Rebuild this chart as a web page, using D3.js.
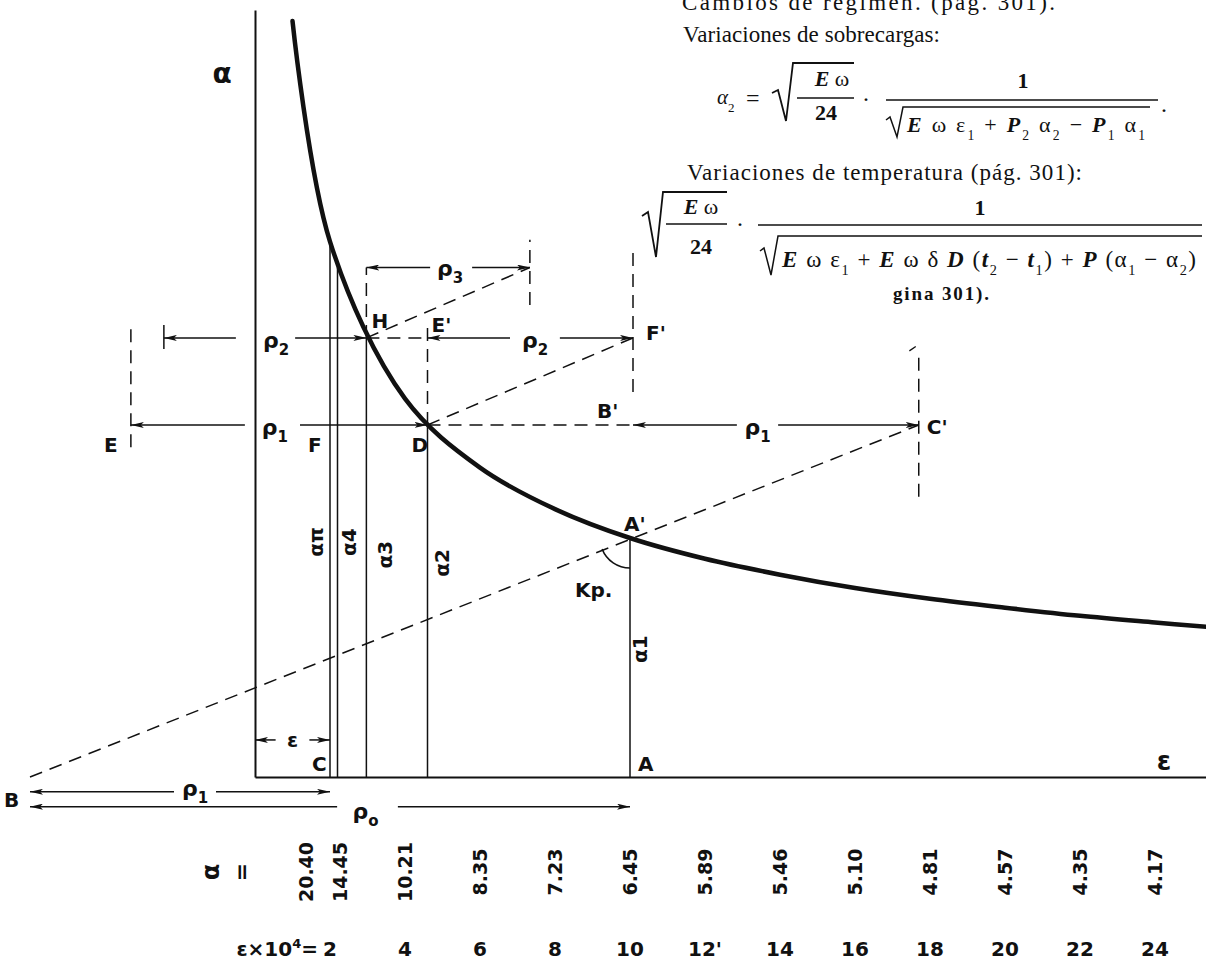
<!DOCTYPE html>
<html>
<head>
<meta charset="utf-8">
<script src="https://cdn.jsdelivr.net/npm/d3@7"></script>
<style>
  html, body { margin: 0; padding: 0; background: #fff; }
  svg { display: block; }
  .hand { font-family: "DejaVu Sans", sans-serif; font-weight: bold; fill: #111; }
  .print { font-family: "Liberation Serif", "DejaVu Serif", serif; fill: #111; }
</style>
</head>
<body>
<svg id="chart" width="1206" height="970"></svg>
<script>
// ----- Table under the plot: alpha for each eps x 10^4
const alphaEps    = [1, 2, 4, 6, 8, 10, 12, 14, 16, 18, 20, 22, 24];
const alphaVals   = [20.40, 14.45, 10.21, 8.35, 7.23, 6.45, 5.89, 5.46, 5.10, 4.81, 4.57, 4.35, 4.17];
const alphaLabels = ["20.40", "14.45", "10.21", "8.35", "7.23", "6.45", "5.89", "5.46", "5.10", "4.81", "4.57", "4.35", "4.17"];
const epsTicks    = [2, 4, 6, 8, 10, 12, 14, 16, 18, 20, 22, 24];
const epsLabels   = ["2", "4", "6", "8", "10", "12'", "14", "16", "18", "20", "22", "24"];

// the curve runs on to the right border
const tailEps   = [25.4];
const tailAlpha = [4.05];

// ordinates under the curve
const ordNames = ["απ", "α4", "α3", "α2", "α1"];
const ordEps   = [2.0, 2.2, 2.97, 4.6, 10];
const ordAlpha = [14.45, 13.75, 11.85, 9.5, 6.45];

// construction points [eps, alpha]
const ptB  = [-6, 0];
const ptC  = [2, 0];
const ptA  = [10, 0];
const ptAp = [10, 6.45];
const ptD  = [4.6, 9.5];
const ptH  = [2.97, 11.85];
const ptEp = [4.6, 11.85];
const ptFp = [10.08, 11.85];
const ptBp = [10.08, 9.5];
const ptCp = [17.7, 9.5];
const ptE  = [-3.31, 9.5];
const ptR2 = [-2.43, 11.85];
const ptR3 = [7.33, 13.75];

// ----- Scales
const x = d3.scaleLinear().domain([0, 10]).range([255, 630]);
const y = d3.scaleLinear().domain([0, 6.45]).range([777, 538]);

const svg = d3.select("#chart");
const ink = "#111";

const defs = svg.append("defs");
defs.append("marker")
    .attr("id", "arr")
    .attr("viewBox", "0 0 13 6")
    .attr("refX", 13).attr("refY", 3)
    .attr("markerWidth", 13).attr("markerHeight", 6)
    .attr("markerUnits", "userSpaceOnUse")
    .attr("orient", "auto-start-reverse")
  .append("path")
    .attr("d", "M0,0 L13,3 L0,6 L3,3 Z")
    .attr("fill", ink);

// ----- Axes (no ticks, just the two lines)
const yTop = 20.7, xEnd = 25.5;
const yAxisScale = d3.scaleLinear().domain([0, yTop]).range([y(0), y(yTop)]);
const xAxisScale = d3.scaleLinear().domain([0, xEnd]).range([x(0), x(xEnd)]);
svg.append("g")
    .attr("transform", `translate(${x(0)},0)`)
    .call(d3.axisLeft(yAxisScale).tickValues([]).tickSizeOuter(0))
    .call(g => g.select(".domain").attr("stroke", ink).attr("stroke-width", 2));
svg.append("g")
    .attr("transform", `translate(0,${y(0)})`)
    .call(d3.axisBottom(xAxisScale).tickValues([]).tickSizeOuter(0))
    .call(g => g.select(".domain").attr("stroke", ink).attr("stroke-width", 2.2));

// ----- Lines helpers
function seg(p, q, dashed, width, startArrow, endArrow) {
  const l = svg.append("line")
      .attr("x1", x(p[0])).attr("y1", y(p[1]))
      .attr("x2", x(q[0])).attr("y2", y(q[1]))
      .attr("stroke", ink)
      .attr("stroke-width", width || 1.5);
  if (dashed) l.attr("stroke-dasharray", "13,8");
  if (startArrow) l.attr("marker-start", "url(#arr)");
  if (endArrow) l.attr("marker-end", "url(#arr)");
  return l;
}

// dimension line with a gap for its label
function dim(a, b, at, gap) {
  seg([a, at], [gap[0], at], false, 1.5, true, false);
  seg([gap[1], at], [b, at], false, 1.5, false, true);
}

function hand(txt, px, py, size, anchor, rotate) {
  const t = svg.append("text")
      .attr("class", "hand")
      .attr("font-size", size || 20)
      .attr("text-anchor", anchor || "start");
  if (rotate) {
    t.attr("transform", `translate(${px},${py}) rotate(${rotate})`);
  } else {
    t.attr("x", px).attr("y", py);
  }
  t.text(txt);
  return t;
}

function rho(sub, px, py) {
  const t = svg.append("text")
      .attr("class", "hand")
      .attr("font-size", 22)
      .attr("text-anchor", "middle")
      .attr("x", px).attr("y", py);
  t.append("tspan").text("ρ");
  t.append("tspan").attr("font-size", 15).attr("dy", 7).text(sub);
}

// ----- Solid ordinates
ordEps.forEach((e, i) => seg([e, 0], [e, ordAlpha[i]], false, 1.5));

// ----- Dashed construction lines
seg(ptB, ptCp, true);
seg(ptD, ptFp, true);
seg(ptH, ptR3, true);
seg(ptH, ptEp, true);
seg(ptD, ptBp, true);
seg(ptH, [ptH[0], ptR3[1]], true);
seg(ptD, [ptD[0], 12.2], true);
seg([ptE[0], 8.9], [ptE[0], 12.28], true);
seg([ptR3[0], 12.74], [ptR3[0], 14.5], true);
seg([ptFp[0], 10.39], [ptFp[0], 14.22], true);
seg([ptCp[0], 7.56], [ptCp[0], 11.44], true);
seg([17.45, 11.5], [17.62, 11.62], false, 1.3);
seg([ptR2[0], 11.55], [ptR2[0], 12.2], false, 1.5);

// ----- Dimensions
dim(ptE[0], ptD[0], ptD[1], [-0.27, 1.2]);
dim(ptBp[0], ptCp[0], ptBp[1], [12.85, 13.95]);
dim(ptR2[0], ptH[0], ptH[1], [-0.51, 1.07]);
dim(ptEp[0], ptFp[0], ptEp[1], [6.8, 8.13]);
dim(ptH[0], ptR3[0], ptR3[1], [4.67, 5.79]);
dim(0, ptC[0], 1.0, [0.55, 1.45]);
dim(ptB[0], ptC[0], -0.4, [-2.16, -1.04]);
dim(ptB[0], ptA[0], -0.8, [2.19, 3.81]);

rho("1", x(0.53), y(9.5) + 10);
rho("1", x(13.4), y(9.5) + 10);
rho("2", x(0.56), y(11.85) + 10);
rho("2", x(7.47), y(11.85) + 10);
rho("3", x(5.2), y(13.75) + 8);
rho("1", x(-1.6), y(-0.4) + 4);
rho("o", x(2.95), y(-0.8) + 12);
hand("ε", x(1.0), y(1.0) + 7, 20, "middle");

// ----- Curve
const curvePts = alphaEps.map((e, i) => [e, alphaVals[i]])
  .concat(tailEps.map((e, i) => [e, tailAlpha[i]]));
svg.append("path")
    .datum(curvePts)
    .attr("fill", "none")
    .attr("stroke", ink)
    .attr("stroke-width", 4.5)
    .attr("stroke-linecap", "round")
    .attr("d", d3.line().x(d => x(d[0])).y(d => y(d[1])).curve(d3.curveCatmullRom.alpha(0.5)));

// angle Kp at A'
const ang = Math.atan2(y(ptB[1]) - y(ptAp[1]), x(ptB[0]) - x(ptAp[0]));
svg.append("path")
    .attr("transform", `translate(${x(ptAp[0])},${y(ptAp[1])})`)
    .attr("fill", "none")
    .attr("stroke", ink)
    .attr("stroke-width", 1.5)
    .attr("d", d3.arc()({ innerRadius: 30, outerRadius: 30, startAngle: Math.PI, endAngle: Math.PI / 2 + ang }));

// ----- Point letters
hand("H", x(ptH[0]) + 5, y(ptH[1]) - 10);
hand("E'", x(ptEp[0]) + 4, y(ptEp[1]) - 6);
hand("F'", x(ptFp[0]) + 13, y(ptFp[1]) + 2);
hand("D", x(ptD[0]) - 16, y(ptD[1]) + 27);
hand("F", x(ordEps[0]) - 22, y(ptD[1]) + 27);
hand("E", x(ptE[0]) - 27, y(ptE[1]) + 27);
hand("B'", x(ptBp[0]) - 36, y(ptBp[1]) - 7);
hand("C'", x(ptCp[0]) + 8, y(ptCp[1]) + 9);
hand("A'", x(ptAp[0]) - 6, y(ptAp[1]) - 7);
hand("Kp.", x(ptAp[0]) - 55, y(ptAp[1]) + 59);
hand("C", x(ptC[0]) - 18, y(0) - 6);
hand("A", x(ptA[0]) + 8, y(0) - 6);
hand("B", 4, y(-0.6) + 8);
hand("ε", 1164, y(0) - 7, 26, "middle");
hand("α", x(0) - 33, 83, 28, "middle");

// ordinate names, written upwards
const ordDx = [-14, 11, 19, 14, 10];
const ordY  = [y(6.34), y(6.34), y(6.0), y(5.78), y(3.45)];
ordNames.forEach((n, i) => hand(n, x(ordEps[i]) + ordDx[i] + 7, ordY[i], 20, "middle", -90));

// ----- Table under the plot
hand("α", x(0) - 44, 872, 24, "middle", -90).attr("dy", "0.35em");
hand("=", x(0) - 14, 872, 22, "middle", -90).attr("dy", "0.35em");
alphaLabels.forEach((t, i) => {
  hand(t, x(alphaEps[i]) + (i === 0 ? 14 : i === 1 ? 10 : 0), 872, 19, "middle", -90).attr("dy", "0.35em");
});
const epsHead = svg.append("text").attr("class", "hand").attr("font-size", 20)
    .attr("text-anchor", "end").attr("x", x(epsTicks[0]) - 12).attr("y", 956);
epsHead.append("tspan").text("ε×10");
epsHead.append("tspan").attr("font-size", 13).attr("dy", -8).text("4");
epsHead.append("tspan").attr("dy", 8).text("=");
epsTicks.forEach((e, i) => hand(epsLabels[i], x(e), 956, 20, "middle"));

// ----- Printed text at the top right
function rich(px, py, size, parts, anchor, weight, len) {
  const t = svg.append("text").attr("class", "print")
      .attr("x", px).attr("y", py)
      .attr("font-size", size)
      .attr("text-anchor", anchor || "start");
  if (weight) t.attr("font-weight", weight);
  if (len) t.attr("textLength", len).attr("lengthAdjust", "spacing");
  parts.forEach(p => {
    const s = t.append("tspan").text(p[0]);
    if (p[1] === "bi") s.attr("font-style", "italic").attr("font-weight", "bold");
    if (p[1] === "i") s.attr("font-style", "italic");
    if (p[1] === "b") s.attr("font-weight", "bold");
    if (p[1] === "sub") s.attr("font-size", size * 0.62).attr("baseline-shift", "sub");
  });
  return t;
}
function stroke(d, w) {
  svg.append("path").attr("d", d).attr("fill", "none").attr("stroke", ink).attr("stroke-width", w || 1.3);
}

rich(682, 10, 23, [["Cambios de régimen. (pág. 301)."]], "start", null, 373);
rich(683, 42, 23, [["Variaciones de sobrecargas:"]], "start", null, 257);

// formula 1
rich(717, 104, 21, [["α", "i"], ["2", "sub"]]);
rich(746, 106, 24, [["="]]);
stroke("M772,93 L778,90 L786,121 L793,63 H854", 1.8);
rich(832, 86, 22, [["E", "bi"], [" ω"]], "middle");
stroke("M797,98 H854");
rich(826, 120, 22, [["24", "b"]], "middle");
rich(862, 107, 24, [["·"]]);
rich(1023, 88, 22, [["1", "b"]], "middle");
stroke("M886,100 H1158");
stroke("M886,120 L890,117 L897,137 L903,107 H1150", 1.5);
rich(907, 132, 22, [["E", "bi"], [" ω ε"], ["1", "sub"], [" + "], ["P", "bi"], ["2", "sub"], [" α"], ["2", "sub"],
                    [" − "], ["P", "bi"], ["1", "sub"], [" α"], ["1", "sub"]], "start", null, 238);
rich(1161, 112, 24, [["."]]);

rich(687, 180, 23, [["Variaciones de temperatura (pág. 301):"]], "start", null, 395);

// formula 2
stroke("M642,216 L648,212 L656,257 L663,192 H727", 1.8);
rich(701, 214, 22, [["E", "bi"], [" ω"]], "middle");
stroke("M666,224 H727");
rich(701, 254, 22, [["24", "b"]], "middle");
rich(736, 232, 24, [["·"]]);
rich(980, 215, 22, [["1", "b"]], "middle");
stroke("M758,225 H1202");
stroke("M760,251 L764,248 L771,275 L778,236 H1202", 1.5);
rich(782, 267, 23, [["E", "bi"], [" ω ε"], ["1", "sub"], [" + "], ["E", "bi"], [" ω δ "], ["D", "bi"], [" ("], ["t", "bi"], ["2", "sub"],
                    [" − "], ["t", "bi"], ["1", "sub"], [") + "], ["P", "bi"], [" (α"], ["1", "sub"], [" − α"], ["2", "sub"], [")"]],
     "start", null, 414);
rich(893, 300, 19, [["gina 301)."]], "start", "bold", 96);
</script>
</body>
</html>
